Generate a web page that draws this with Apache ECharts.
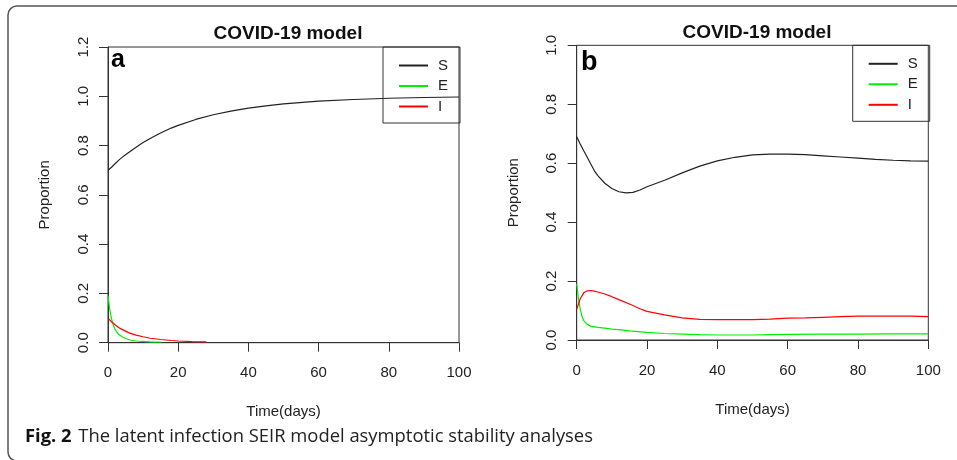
<!DOCTYPE html>
<html>
<head>
<meta charset="utf-8">
<script src="https://cdn.jsdelivr.net/npm/echarts@6/dist/echarts.min.js"></script>
<style>
html,body{margin:0;padding:0;background:#fff;}
#main{width:957px;height:460px;}
</style>
</head>
<body>
<div id="main"></div>
<script>
// panel a: time points and proportions
var tA=[0,1,2,3,4,5,6,8,10,12,14,16,18,20,25,30,35,40,45,50,60,70,80,90,100];
var sA=[0.70,0.712,0.726,0.74,0.752,0.763,0.773,0.793,0.812,0.829,0.844,0.858,0.871,0.882,0.906,0.925,0.94,0.952,0.961,0.969,0.980,0.987,0.992,0.995,0.997];
var tEA=[0,0.5,1,1.5,2,3,4,5,6,7,8,10,12,15];
var eA=[0.19,0.135,0.098,0.072,0.054,0.034,0.024,0.017,0.012,0.009,0.007,0.005,0.003,0.002];
var tIA=[0,1,2,3,4,5,6,8,10,12,15,18,20,24,28];
var iA=[0.1,0.085,0.073,0.062,0.054,0.047,0.040,0.031,0.024,0.018,0.013,0.009,0.007,0.004,0.003];

// panel b
var tSB=[0,1,2,3,4,5,6,8,10,12,14,16,18,20,25,30,35,40,45,50,55,60,65,70,75,80,85,90,95,100];
var sB=[0.69,0.665,0.642,0.62,0.597,0.575,0.558,0.532,0.514,0.503,0.499,0.501,0.509,0.52,0.542,0.567,0.59,0.608,0.62,0.628,0.631,0.631,0.629,0.625,0.621,0.617,0.613,0.61,0.608,0.607];
var tEB=[0,0.5,1,1.5,2,3,4,6,8,10,12,15,20,25,30,35,40,45,50,55,60,70,80,90,100];
var eB=[0.19,0.14,0.105,0.08,0.066,0.053,0.047,0.043,0.04,0.037,0.035,0.031,0.026,0.022,0.02,0.018,0.017,0.017,0.017,0.018,0.019,0.02,0.02,0.021,0.021];
var tIB=[0,1,2,3,4,5,6,8,10,12,15,18,20,25,30,35,40,45,50,55,60,65,70,75,80,85,90,95,100];
var iB=[0.104,0.14,0.16,0.167,0.168,0.166,0.163,0.156,0.147,0.137,0.122,0.106,0.097,0.085,0.075,0.07,0.069,0.069,0.069,0.071,0.074,0.075,0.077,0.079,0.081,0.081,0.081,0.081,0.079];

var seriesNames=['S','E','I'];
var colors=['#222222','#00ee00','#ff0000'];

var FONT='"Liberation Sans", Arial, sans-serif';

function pairs(t,v){
    var out=[];
    for(var i=0;i<t.length;i++){ out.push([t[i],v[i]]); }
    return out;
}

function xAxisFor(gi){
    return {
        type:'value', gridIndex:gi, min:0, max:100, interval:20,
        axisLine:{show:true,onZero:false,lineStyle:{color:'#333',width:1}},
        axisTick:{show:true,length:9,lineStyle:{color:'#333'}},
        axisLabel:{color:'#222',fontSize:15,margin:23,fontFamily:FONT},
        splitLine:{show:false},
        name:'Time(days)', nameLocation:'middle', nameGap:62,
        nameTextStyle:{color:'#222',fontSize:15,fontFamily:FONT}
    };
}
function yAxisFor(gi,max,gap){
    return {
        type:'value', gridIndex:gi, min:0, max:max, interval:0.2,
        axisLine:{show:true,onZero:false,lineStyle:{color:'#333',width:1}},
        axisTick:{show:true,length:9,lineStyle:{color:'#333'}},
        axisLabel:{color:'#222',fontSize:15,margin:17,rotate:90,fontFamily:FONT,
            formatter:function(v){return v.toFixed(1);}},
        splitLine:{show:false},
        name:'Proportion', nameLocation:'middle', nameGap:gap, nameRotate:90,
        nameTextStyle:{color:'#222',fontSize:15,fontFamily:FONT}
    };
}
function line(name,gi,data,ci){
    return {
        name:name, type:'line', xAxisIndex:gi, yAxisIndex:gi,
        data:data, symbol:'none', smooth:false, silent:true,
        lineStyle:{color:colors[ci],width:1.2}, itemStyle:{color:colors[ci]},
        animation:false
    };
}
function legendFor(left,top){
    return {
        orient:'vertical', left:left, top:top,
        data:seriesNames, itemWidth:29, itemHeight:14, itemGap:5.5,
        padding:[11,12,9,15],
        borderColor:'#333', borderWidth:1, borderRadius:0,
        itemStyle:{opacity:0},
        textStyle:{color:'#222',fontSize:15,fontFamily:FONT,padding:[0,0,0,5]},
        selectedMode:false
    };
}

var myChart=echarts.init(document.getElementById('main'));
var option={
    backgroundColor:'#fff',
    animation:false,
    title:[
        {text:'COVID-19 model',left:283,top:19,textAlign:'center',
         textStyle:{fontSize:19,fontWeight:'bold',color:'#111',fontFamily:FONT}},
        {text:'COVID-19 model',left:752,top:18,textAlign:'center',
         textStyle:{fontSize:19,fontWeight:'bold',color:'#111',fontFamily:FONT}}
    ],
    grid:[
        {left:108,top:47,width:351,height:295.7,show:true,borderColor:'#333',borderWidth:1,containLabel:false},
        {left:576.7,top:45.3,width:351.6,height:294.7,show:true,borderColor:'#333',borderWidth:1,containLabel:false}
    ],
    xAxis:[xAxisFor(0),xAxisFor(1)],
    yAxis:[yAxisFor(0,1.2,56),yAxisFor(1,1.0,55)],
    legend:[legendFor(383,47),legendFor(852.7,45.3)],
    series:[
        line('S',0,pairs(tA,sA),0),
        line('E',0,pairs(tEA,eA),1),
        line('I',0,pairs(tIA,iA),2),
        line('S',1,pairs(tSB,sB),0),
        line('E',1,pairs(tEB,eB),1),
        line('I',1,pairs(tIB,iB),2)
    ],
    graphic:[
        {type:'rect',silent:true,shape:{x:8,y:6,width:1000,height:455,r:9},
         style:{fill:'none',stroke:'#555',lineWidth:1.5}},
        {type:'text',silent:true,style:{text:'a',x:111,y:60,font:'bold 25px '+FONT,fill:'#000',verticalAlign:'middle'}},
        {type:'text',silent:true,style:{text:'b',x:581,y:63,font:'bold 27px '+FONT,fill:'#000',verticalAlign:'middle'}},
        {type:'text',silent:true,style:{
            text:'{b|Fig. 2}  {n|The latent infection SEIR model asymptotic stability analyses}',
            x:25,y:437,verticalAlign:'middle',
            rich:{
                b:{fontFamily:'"Open Sans", sans-serif',fontWeight:'bold',fontSize:18.4,fill:'#111'},
                n:{fontFamily:'"Open Sans", sans-serif',fontSize:18.4,fill:'#222'}
            }
        }}
    ]
};
myChart.setOption(option);
</script>
</body>
</html>
